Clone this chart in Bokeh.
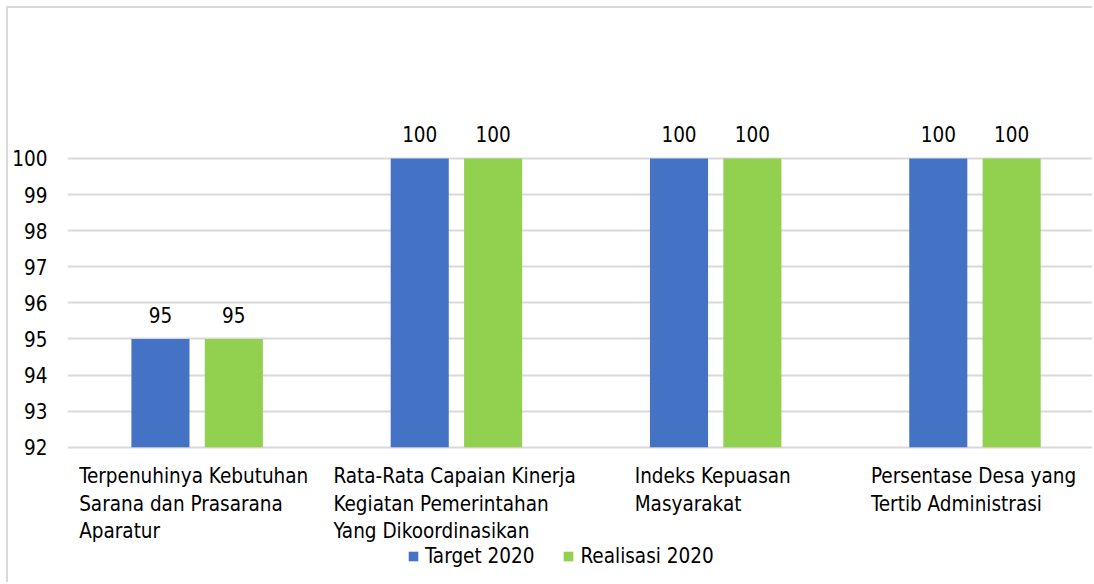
from bokeh.plotting import figure
from bokeh.models import ColumnDataSource, Range1d, FixedTicker, Legend, LegendItem, LabelSet
from bokeh.transform import dodge
from bokeh.core.properties import value
from bokeh.embed import file_html
from bokeh.resources import INLINE

categories = [
    "Terpenuhinya Kebutuhan\nSarana dan Prasarana\nAparatur",
    "Rata-Rata Capaian Kinerja\nKegiatan Pemerintahan\nYang Dikoordinasikan",
    "Indeks Kepuasan\nMasyarakat",
    "Persentase Desa yang\nTertib Administrasi",
]
target_2020 = [95, 100, 100, 100]
realisasi_2020 = [95, 100, 100, 100]
series_names = ["Target 2020", "Realisasi 2020"]
y_ticks = [92, 93, 94, 95, 96, 97, 98, 99, 100]

# styling: horizontal shift (px) of each left-aligned category label block
label_shift_px = [-118, -123, -81, -104]

FONT = "'DejaVu Sans Condensed', 'Noto Sans', sans-serif"
FS = "20.5px"
BLUE = "#4472C4"
GREEN = "#92D050"
GRID = "#D9D9D9"

xs = list(range(len(categories)))
src = ColumnDataSource(dict(
    x=xs,
    target=target_2020,
    realisasi=realisasi_2020,
    t_lab=[str(v) for v in target_2020],
    r_lab=[str(v) for v in realisasi_2020],
))
cat_src = ColumnDataSource(dict(
    x=xs,
    y=[y_ticks[0]] * len(xs),
    text=categories,
    dx=label_shift_px,
))

PX_PER_UNIT = 36.09
y_bottom = y_ticks[0] - 137.3 / PX_PER_UNIT
y_top = y_ticks[-1] + 150.0 / PX_PER_UNIT

p = figure(width=1086, height=576, output_backend="svg", toolbar_location=None,
           x_range=Range1d(-0.5, 3.461), y_range=Range1d(y_bottom, y_top),
           min_border_left=59, min_border_right=0, min_border_top=0, min_border_bottom=0)
p.margin = (6, 0, 0, 6)
p.outline_line_color = None
p.background_fill_color = "white"
p.border_fill_color = "white"
p.styles = {"border-left": "2px solid #D9D9D9", "border-top": "2px solid #D9D9D9"}

bw = 0.224
off = 0.1415
r1 = p.vbar(x=dodge("x", -off), top="target", bottom=y_ticks[0], width=bw, source=src,
            fill_color=BLUE, line_color=None)
r2 = p.vbar(x=dodge("x", off), top="realisasi", bottom=y_ticks[0], width=bw, source=src,
            fill_color=GREEN, line_color=None)

for col, lab, o in (("target", "t_lab", -off), ("realisasi", "r_lab", off)):
    ls = LabelSet(x=dodge("x", o), y=col, text=lab, source=src, y_offset=16,
                  text_align="center", text_baseline="alphabetic",
                  text_font=value(FONT), text_font_size=FS, text_color="#000000")
    p.add_layout(ls)

# category labels (left-aligned lines, block centred under category)
p.text(x="x", y="y", text="text", x_offset="dx", y_offset=17, source=cat_src,
       text_align="left", text_baseline="top", text_font=value(FONT),
       text_font_size=FS, text_color="#000000", text_line_height=1.15)

# axes
p.yaxis.ticker = FixedTicker(ticks=y_ticks)
p.yaxis.axis_line_color = None
p.yaxis.major_tick_line_color = None
p.yaxis.minor_tick_line_color = None
p.yaxis.major_tick_out = 0
p.yaxis.major_label_standoff = 20
p.yaxis.major_label_text_font = FONT
p.yaxis.major_label_text_font_size = FS
p.yaxis.major_label_text_color = "#000000"

p.xaxis.visible = False
p.xgrid.grid_line_color = None
p.ygrid.grid_line_color = GRID
p.ygrid.grid_line_width = 2

legend = Legend(items=[LegendItem(label=series_names[0], renderers=[r1]),
                       LegendItem(label=series_names[1], renderers=[r2])],
                orientation="horizontal", location=(340, 16),
                glyph_width=12, glyph_height=12, label_standoff=6, spacing=28,
                label_text_font=FONT, label_text_font_size=FS, label_text_color="#000000",
                border_line_color=None, background_fill_alpha=0, padding=0, margin=0)
p.add_layout(legend, "center")

open("out.html", "w").write(file_html(p, INLINE))
